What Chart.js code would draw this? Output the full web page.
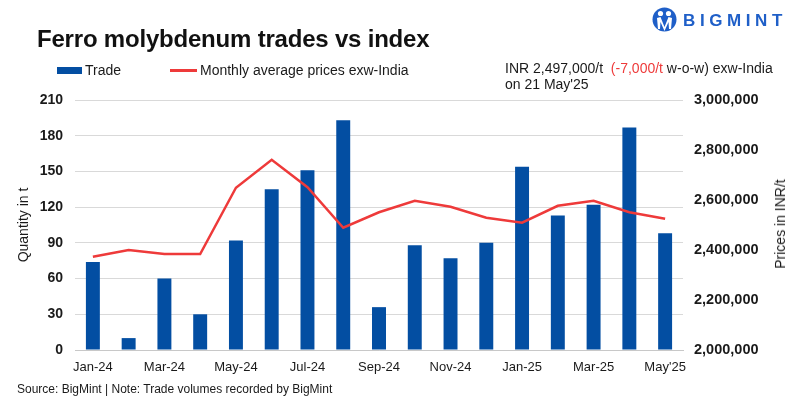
<!DOCTYPE html>
<html>
<head>
<meta charset="utf-8">
<script src="https://cdn.jsdelivr.net/npm/chart.js@4"></script>
<style>
  body { margin: 0; background: #fff; font-family: "Liberation Sans", Arial, sans-serif; color: #1a1a1a; }
  #page { position: relative; width: 800px; height: 399px; overflow: hidden; }
  #wrap { position: absolute; left: 0; top: 0; width: 800px; height: 399px; }
  .txt { position: absolute; white-space: nowrap; }
  #title { left: 37px; top: 27px; font-size: 24px; font-weight: bold; line-height: 24px; letter-spacing: -0.2px; color: #111; }
  .leg { top: 62px; font-size: 14px; line-height: 16px; }
  #note { left: 505px; top: 60px; font-size: 14px; line-height: 16px; }
  #note .red { color: #ee3a3a; }
  #source { left: 17px; top: 382px; font-size: 12px; line-height: 14px; }
  #ytitle2 { left: 780px; top: 224px; font-size: 14px; line-height: 16px; transform: translate(-50%, -50%) rotate(-90deg); }
  #logo { position: absolute; left: 652px; top: 7px; }
  #brand { left: 683px; top: 12px; font-size: 17px; line-height: 17px; font-weight: bold; letter-spacing: 4.6px; color: #1f5fc8; }
</style>
</head>
<body>
<div id="page">
  <div id="wrap"><canvas id="chart"></canvas></div>
  <div class="txt" id="title">Ferro molybdenum trades vs index</div>
  <div style="position:absolute;left:57px;top:67px;width:25px;height:7px;background:#034ea2"></div>
  <div class="txt leg" style="left:85px">Trade</div>
  <div style="position:absolute;left:170px;top:69px;width:27px;height:2.5px;background:#ee3a3a"></div>
  <div class="txt leg" style="left:200px">Monthly average prices exw-India</div>
  <div class="txt" id="note">INR 2,497,000/t&nbsp; <span class="red">(-7,000/t</span> w-o-w) exw-India<br>on 21 May'25</div>
  <div class="txt" id="ytitle2">Prices in INR/t</div>
  <div class="txt" id="source">Source: BigMint | Note: Trade volumes recorded by BigMint</div>
  <svg id="logo" width="25" height="26" viewBox="0 0 25 26">
    <circle cx="12.5" cy="12.5" r="12" fill="#1f5fc8"/>
    <circle cx="8.5" cy="6.5" r="2.6" fill="#fff"/>
    <circle cx="16.5" cy="6.5" r="2.6" fill="#fff"/>
    <path d="M5 11 L8.5 10 L12.5 20 L16.5 10 L20 11 L19 22 L17 22 L16.5 15 L12.5 24 L8.5 15 L8 22 L6 22 Z" fill="#fff"/>
  </svg>
  <div class="txt" id="brand">BIGMINT</div>
</div>
<script>
const months = ['Jan-24', 'Feb-24', 'Mar-24', 'Apr-24', 'May-24', 'Jun-24', 'Jul-24', 'Aug-24', 'Sep-24',
    'Oct-24', 'Nov-24', 'Dec-24', 'Jan-25', 'Feb-25', 'Mar-25', 'Apr-25', "May'25"];
const trade = [74, 10, 60, 30, 92, 135, 151, 193, 36, 88, 77, 90, 154, 113, 122, 187, 98];
const prices = [2373000, 2400000, 2384000, 2384000, 2649000, 2761000, 2651000, 2489000, 2551000,
    2597000, 2573000, 2529000, 2509000, 2577000, 2597000, 2551000, 2525000];
const qtyTicks = [0, 30, 60, 90, 120, 150, 180, 210];
const priceTicks = [2000000, 2200000, 2400000, 2600000, 2800000, 3000000];

const ctx = document.getElementById('chart');
const font = "'Liberation Sans', Arial, sans-serif";

const data = {
    labels: months,
    datasets: [{
        type: 'line',
        label: 'Monthly average prices exw-India',
        data: prices,
        yAxisID: 'y1',
        borderColor: '#ee3a3a',
        borderWidth: 2.5,
        pointRadius: 0,
        tension: 0,
        order: 0,
    }, {
        type: 'bar',
        label: 'Trade',
        data: trade,
        yAxisID: 'y',
        backgroundColor: '#034ea2',
        categoryPercentage: 1,
        barPercentage: 0.39,
        order: 1,
    }]
};

const options = {
    responsive: true,
    maintainAspectRatio: false,
    animation: false,
    layout: {
        padding: { top: 100, left: 0, right: 0, bottom: 0 }
    },
    plugins: {
        legend: { display: false },
        tooltip: { enabled: false },
    },
    scales: {
        x: {
            grid: { display: false },
            border: { color: '#c8c8c8', width: 1 },
            ticks: {
                autoSkip: false,
                maxRotation: 0,
                padding: 2,
                color: '#1a1a1a',
                font: { family: font, size: 13 },
                callback: (v, i) => i % 2 === 0 ? months[i] : '',
            },
            afterFit: (s) => { s.height = 49; },
        },
        y: {
            position: 'left',
            min: qtyTicks[0],
            max: qtyTicks[qtyTicks.length - 1],
            afterBuildTicks: (s) => { s.ticks = qtyTicks.map(v => ({ value: v })); },
            grid: { color: '#d9d9d9', drawTicks: false },
            border: { display: false },
            ticks: {
                padding: 12,
                color: '#1a1a1a',
                font: { family: font, size: 14, weight: 'bold' },
            },
            title: {
                display: true,
                text: 'Quantity in t',
                color: '#1a1a1a',
                padding: { top: 16, bottom: 0 },
                font: { family: font, size: 14 },
            },
            afterFit: (s) => { s.width = 75; },
        },
        y1: {
            position: 'right',
            min: priceTicks[0],
            max: priceTicks[priceTicks.length - 1],
            afterBuildTicks: (s) => { s.ticks = priceTicks.map(v => ({ value: v })); },
            grid: { drawOnChartArea: false, drawTicks: false },
            border: { display: false },
            ticks: {
                padding: 11,
                color: '#1a1a1a',
                font: { family: font, size: 14.5, weight: 'bold' },
                callback: (v) => v.toLocaleString('en-US'),
            },
            afterFit: (s) => { s.width = 117; },
        }
    }
};

new Chart(ctx, { data, options });
</script>
</body>
</html>
